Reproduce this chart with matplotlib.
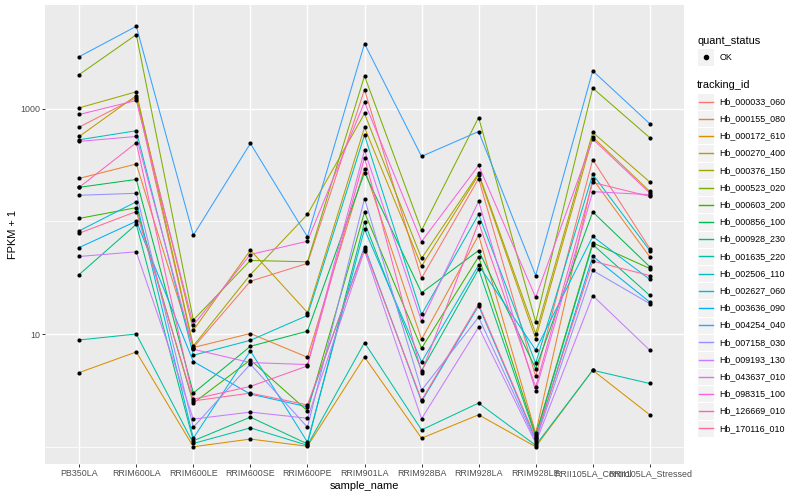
import math
import numpy as np
import matplotlib
matplotlib.use("Agg")
import matplotlib.pyplot as plt
from matplotlib.patches import Rectangle
from matplotlib.lines import Line2D
from matplotlib.ticker import FixedLocator, NullFormatter, FixedFormatter

plt.rcParams['font.family'] = ['Liberation Sans', 'DejaVu Sans']

samples = ["PB350LA", "RRIM600LA", "RRIM600LE", "RRIM600SE", "RRIM600PE",
           "RRIM901LA", "RRIM928BA", "RRIM928LA", "RRIM928LE",
           "RRII105LA_Control", "RRII105LA_Stressed"]

tracking_ids = ["Hb_000033_060", "Hb_000155_080", "Hb_000172_610", "Hb_000270_400",
                "Hb_000376_150", "Hb_000523_020", "Hb_000603_200", "Hb_000856_100",
                "Hb_000928_230", "Hb_001635_220", "Hb_002506_110", "Hb_002627_060",
                "Hb_003636_090", "Hb_004254_040", "Hb_007158_030", "Hb_009193_130",
                "Hb_043637_010", "Hb_098315_100", "Hb_126669_010", "Hb_170116_010"]

# FPKM + 1 per sample (order of `samples`)
hb_000033_060 = [684, 1250, 7.59, 29.4, 42.3, 1472, 31.3, 239, 4.20, 352, 57.3]
hb_000155_080 = [240, 322, 7.59, 10.1, 6.22, 293, 8.98, 75.2, 1.32, 237, 48.4]
hb_000172_610 = [4.55, 6.93, 1.00, 1.17, 1.01, 6.25, 1.19, 1.92, 1.00, 4.77, 1.92]
hb_000270_400 = [565, 1303, 10.8, 55.4, 15.5, 679, 40.0, 258, 9.11, 558, 184]
hb_000376_150 = [1014, 1406, 7.83, 33.6, 115, 903, 46.8, 266, 10.1, 614, 223]
hb_000523_020 = [2000, 4520, 13.3, 44.9, 43.7, 1945, 83.2, 832, 12.8, 1517, 551]
hb_000603_200 = [106, 132, 2.44, 5.89, 2.08, 120, 7.47, 48.4, 1.27, 64.4, 38.1]
hb_000856_100 = [200, 235, 2.99, 7.78, 10.6, 270, 23.2, 55.0, 4.94, 121, 39.5]
hb_000928_230 = [33.7, 94.0, 1.13, 1.83, 1.06, 97.9, 4.74, 37.6, 1.23, 62.2, 22.0]
hb_001635_220 = [8.85, 10.0, 1.07, 1.47, 1.03, 8.39, 1.41, 2.44, 1.03, 4.77, 3.64]
hb_002506_110 = [528, 635, 6.48, 8.79, 14.6, 582, 14.9, 115, 5.50, 261, 55.0]
hb_002627_060 = [82.2, 149, 1.19, 7.08, 1.10, 84.9, 5.65, 40.8, 7.21, 73.3, 30.5]
hb_003636_090 = [58.5, 100, 5.70, 2.93, 2.26, 59.3, 2.52, 17.8, 1.16, 49.0, 19.2]
hb_004254_040 = [2884, 5358, 75.2, 490, 72.8, 3758, 376, 625, 33.0, 2158, 733]
hb_007158_030 = [170, 177, 1.49, 5.40, 1.49, 159, 3.17, 14.1, 1.12, 36.6, 18.6]
hb_009193_130 = [48.7, 53.6, 1.76, 2.03, 1.79, 55.0, 1.77, 11.5, 1.08, 21.9, 7.18]
hb_043637_010 = [511, 565, 7.32, 5.58, 5.36, 425, 13.0, 150, 3.13, 183, 172]
hb_098315_100 = [885, 1178, 12.0, 50.7, 66.5, 1140, 66.1, 313, 21.1, 536, 178]
hb_126669_010 = [200, 497, 2.64, 3.43, 5.21, 366, 4.55, 97.9, 3.40, 221, 166]
hb_170116_010 = [78.3, 122, 2.55, 2.99, 2.35, 57.3, 2.59, 18.4, 1.19, 44.3, 33.0]

series = [hb_000033_060, hb_000155_080, hb_000172_610, hb_000270_400, hb_000376_150,
          hb_000523_020, hb_000603_200, hb_000856_100, hb_000928_230, hb_001635_220,
          hb_002506_110, hb_002627_060, hb_003636_090, hb_004254_040, hb_007158_030,
          hb_009193_130, hb_043637_010, hb_098315_100, hb_126669_010, hb_170116_010]

y_ticks = [10, 1000]
y_tick_labels = ["10", "1000"]


def hcl_color(h, c=100.0, l=65.0):
    hr = math.radians(h)
    U = c * math.cos(hr)
    V = c * math.sin(hr)
    Xn, Yn, Zn = 95.047, 100.0, 108.883
    un = 4 * Xn / (Xn + 15 * Yn + 3 * Zn)
    vn = 9 * Yn / (Xn + 15 * Yn + 3 * Zn)
    Y = Yn * ((l + 16) / 116) ** 3
    u = U / (13 * l) + un
    v = V / (13 * l) + vn
    X = 9 * Y * u / (4 * v)
    Z = -X / 3 - 5 * Y + 3 * Y / v
    X, Y, Z = X / 100, Y / 100, Z / 100
    r = 3.240479 * X - 1.537150 * Y - 0.498535 * Z
    g = -0.969256 * X + 1.875992 * Y + 0.041556 * Z
    b = 0.055648 * X - 0.204043 * Y + 1.057311 * Z

    def gam(t):
        t = 12.92 * t if t <= 0.0031308 else 1.055 * t ** (1 / 2.4) - 0.055
        return min(max(t, 0.0), 1.0)
    return (gam(r), gam(g), gam(b))


n = len(tracking_ids)
hues = np.linspace(15, 375, n + 1)[:n]
colors = [hcl_color(h) for h in hues]

W, H = 800, 500
fig = plt.figure(figsize=(8, 5), dpi=100)
L, R, T, B = 45, 684, 5, 464
ax = fig.add_axes([L / W, 1 - B / H, (R - L) / W, (B - T) / H])
ax.set_facecolor("#EBEBEB")
for s in ax.spines.values():
    s.set_visible(False)

x = np.arange(len(samples))
for vals, col in zip(series, colors):
    ax.plot(x, vals, color=col, lw=0.75, zorder=3, solid_capstyle='butt')
for vals in series:
    ax.scatter(x, vals, s=9, color="black", zorder=4, linewidths=0)

ax.set_yscale("log")
ax.set_ylim(10 ** -0.153, 10 ** 3.918)
ax.set_xlim(-0.6, len(samples) - 1 + 0.6)

ax.yaxis.set_major_locator(FixedLocator(y_ticks))
ax.yaxis.set_major_formatter(FixedFormatter(y_tick_labels))
ax.yaxis.set_minor_locator(FixedLocator([1, 100]))
ax.yaxis.set_minor_formatter(NullFormatter())
ax.set_xticks(x)
ax.set_xticklabels(samples)

ax.grid(True, which="major", color="white", lw=1.07, zorder=0)
ax.grid(True, which="minor", axis="y", color="white", lw=0.55, zorder=0)
ax.set_axisbelow(True)
ax.tick_params(which="major", length=2.0, width=0.7, color="#333333",
               labelsize=6.4, labelcolor="#4D4D4D", pad=1.6)
ax.tick_params(which="minor", length=0)

ax.set_xlabel("sample_name", fontsize=7.9, labelpad=2.0)
ax.set_ylabel("FPKM + 1", fontsize=7.9, labelpad=1.5)

# Legends (ggplot-like, drawn in figure pixel space)
def fx(px):
    return px / W


def fy(py):
    return 1 - py / H

key = 17.2
kx = 697
fig.text(fx(kx), fy(40.5), "quant_status", fontsize=7.9, va="center", ha="left")
fig.patches.append(Rectangle((fx(kx), fy(57 + key / 2)), key / W, key / H,
                             transform=fig.transFigure, facecolor="#F2F2F2",
                             edgecolor="white", lw=0.8))
fig.lines.append(Line2D([fx(kx + key / 2)], [fy(57)], marker="o", markersize=3.0,
                        color="black", linestyle="none", transform=fig.transFigure))
fig.text(fx(kx + key + 5.5), fy(57), "OK", fontsize=6.4, va="center", ha="left")

fig.text(fx(kx), fy(85.5), "tracking_id", fontsize=7.9, va="center", ha="left")
y0 = 101.5
for i, (name, col) in enumerate(zip(tracking_ids, colors)):
    yc = y0 + i * key
    fig.patches.append(Rectangle((fx(kx), fy(yc + key / 2)), key / W, key / H,
                                 transform=fig.transFigure, facecolor="#F2F2F2",
                                 edgecolor="white", lw=0.8))
    fig.lines.append(Line2D([fx(kx + 1.7), fx(kx + key - 1.7)], [fy(yc), fy(yc)],
                            color=col, lw=1.0, transform=fig.transFigure))
    fig.text(fx(kx + key + 5.5), fy(yc), name, fontsize=6.4, va="center", ha="left")

fig.savefig("out.png", dpi=100)
